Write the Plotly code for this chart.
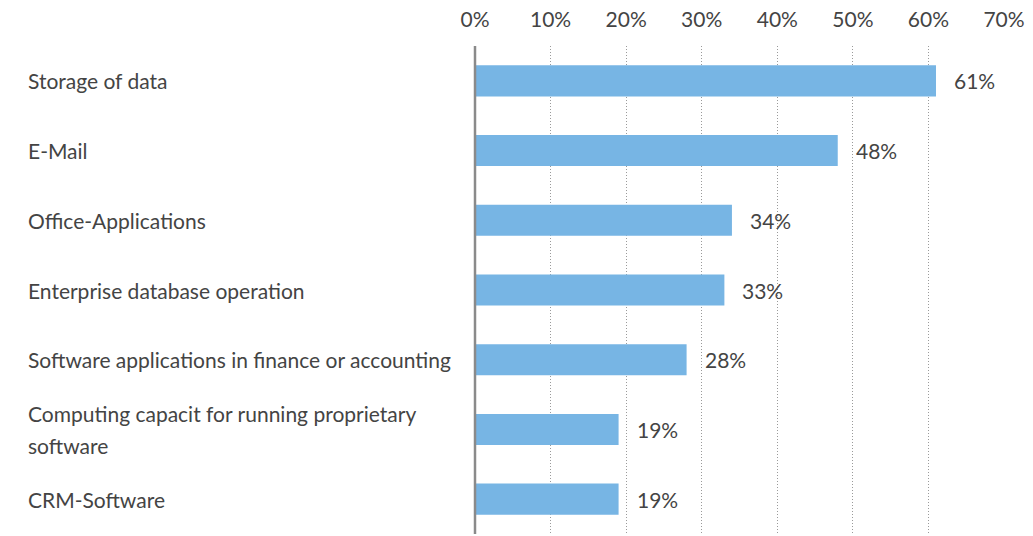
import plotly.graph_objects as go

categories = [
    "Storage of data",
    "E-Mail",
    "Office-Applications",
    "Enterprise database operation",
    "Software applications in finance or accounting",
    "Computing capacit for running proprietary<br>software",
    "CRM-Software",
]
values = [61, 48, 34, 33, 28, 19, 19]
tick_vals = [0, 10, 20, 30, 40, 50, 60, 70]
tick_text = ["0%", "10%", "20%", "30%", "40%", "50%", "60%", "70%"]

W, H = 1033, 536
ML, MR, MT, MB = 475, 29, 46, 2
plot_w = W - ML - MR

FONT = "Lato, Open Sans, sans-serif"
FS = 21
TXT = "#444444"
LINE_GAP = 32

fig = go.Figure()
fig.add_trace(go.Bar(
    x=values, y=categories, orientation="h",
    marker=dict(color="#77b5e4", line=dict(width=0)),
    hoverinfo="skip",
))

ann = []
for c, v in zip(categories, values):
    ann.append(dict(x=v, y=c, xref="x", yref="y", text=f"{v}%", showarrow=False,
                    xanchor="left", xshift=16, font=dict(family=FONT, size=FS, color=TXT)))
    lines = c.split("<br>")
    n = len(lines)
    for i, ln in enumerate(lines):
        ann.append(dict(x=(28 - ML) / plot_w, y=c, xref="paper", yref="y", text=ln,
                        showarrow=False, xanchor="left", align="left", xshift=-2,
                        yshift=((n - 1) / 2 - i) * LINE_GAP,
                        font=dict(family=FONT, size=FS, color=TXT)))

fig.update_layout(
    width=W, height=H,
    margin=dict(l=ML, r=MR, t=MT, b=MB),
    paper_bgcolor="white", plot_bgcolor="white",
    showlegend=False,
    bargap=0.554,
    font=dict(family=FONT, size=FS, color=TXT),
    annotations=ann,
    xaxis=dict(
        side="top", range=[0, 70], tickvals=tick_vals, ticktext=tick_text,
        showgrid=True, gridcolor="#9a9a9a", griddash="1px,2px", gridwidth=1,
        zeroline=False, showline=False, ticks="",
        ticklabelstandoff=14,
        tickfont=dict(family=FONT, size=FS, color=TXT),
    ),
    yaxis=dict(
        categoryorder="array", categoryarray=categories, autorange="reversed",
        showticklabels=False, showgrid=False, zeroline=False, showline=False, ticks="",
    ),
)
fig.add_shape(type="line", xref="paper", yref="paper", x0=0, x1=0, y0=0, y1=1,
              line=dict(color="#8a8a8a", width=2.5), layer="above")

fig.write_html("out.html", config={"displayModeBar": False},
               post_script="document.body.style.margin='0';document.body.style.padding='0';"
                           "document.documentElement.style.overflow='hidden';")
